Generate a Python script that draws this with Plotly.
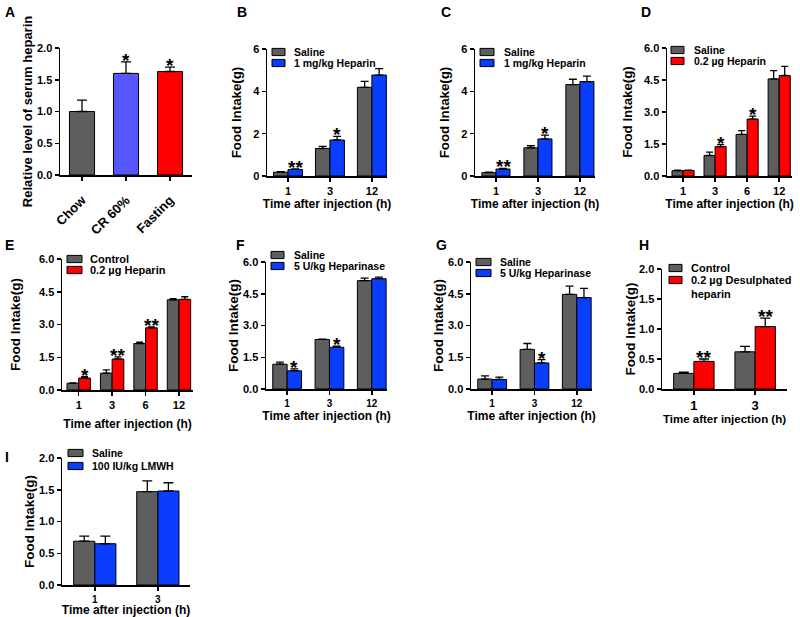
import plotly.graph_objects as go

W, H = 800, 617
FONT = "Liberation Sans, Arial, Helvetica, sans-serif"
GRAY = "#5e5e5e"
BLUE = "#0b3dfd"
RED = "#ff0000"
PERI = "#5656ff"

# ---------------- data ----------------
A_cats = ["Chow", "CR 60%", "Fasting"]
A_vals = [1.00, 1.60, 1.63]
A_err = [0.18, 0.18, 0.07]
A_sig = ["", "*", "*"]

B_times = ["1", "3", "12"]
B_saline = [0.18, 1.30, 4.19]
B_saline_err = [0.02, 0.10, 0.28]
B_hep = [0.31, 1.70, 4.77]
B_hep_err = [0.02, 0.17, 0.30]
B_sig = ["**", "*", ""]

C_times = ["1", "3", "12"]
C_saline = [0.16, 1.33, 4.32]
C_saline_err = [0.02, 0.10, 0.25]
C_hep = [0.33, 1.75, 4.46]
C_hep_err = [0.03, 0.18, 0.26]
C_sig = ["**", "*", ""]

D_times = ["1", "3", "6", "12"]
D_saline = [0.25, 0.96, 1.95, 4.55]
D_saline_err = [0.03, 0.16, 0.18, 0.39]
D_hep = [0.26, 1.38, 2.67, 4.71]
D_hep_err = [0.02, 0.09, 0.14, 0.43]
D_sig = ["", "*", "*", ""]

E_times = ["1", "3", "6", "12"]
E_ctrl = [0.31, 0.77, 2.13, 4.13]
E_ctrl_err = [0.02, 0.15, 0.06, 0.05]
E_hep = [0.55, 1.42, 2.85, 4.15]
E_hep_err = [0.06, 0.10, 0.04, 0.12]
E_sig = ["*", "**", "**", ""]

F_times = ["1", "3", "12"]
F_saline = [1.17, 2.34, 5.12]
F_saline_err = [0.10, 0.02, 0.12]
F_hepase = [0.86, 1.97, 5.21]
F_hepase_err = [0.09, 0.05, 0.08]
F_sig = ["*", "*", ""]

G_times = ["1", "3", "12"]
G_saline = [0.47, 1.87, 4.47]
G_saline_err = [0.15, 0.28, 0.39]
G_hepase = [0.45, 1.23, 4.32]
G_hepase_err = [0.11, 0.16, 0.43]
G_sig = ["", "*", ""]

H_times = ["1", "3"]
H_ctrl = [0.26, 0.62]
H_ctrl_err = [0.02, 0.09]
H_desulf = [0.46, 1.04]
H_desulf_err = [0.04, 0.14]
H_sig = ["**", "**"]

I_times = ["1", "3"]
I_saline = [0.69, 1.47]
I_saline_err = [0.08, 0.17]
I_lmwh = [0.65, 1.48]
I_lmwh_err = [0.12, 0.13]
I_sig = ["", ""]

XT = "Time after injection (h)"
YT = "Food Intake(g)"

# ---------------- panel layout specs (pixels) ----------------
panels = [
    dict(letter="A", lpos=(3, 2), box=(60, 192, 48, 175), xr=[-0.5, 2.5], ymax=2.0, dtick=0.5, yfmt=".1f",
         bw=0.57, cats=A_cats, series=[(A_vals, A_err, [GRAY, PERI, RED], None)], sig=A_sig,
         legend=None, xtitle="", xstand=0, ytitle="Relative level of serum heparin", ystand=1,
         xts=13, yts=11, xtitle_s=12, ytitle_s=13, tickangle=-45, capw=5, tls=7),
    dict(letter="B", lpos=(235, 2), box=(267, 387, 49, 176), xr=[-0.5, 2.36], ymax=6, dtick=2, yfmt="d",
         bw=0.69, cats=B_times,
         series=[(B_saline, B_saline_err, GRAY, "Saline"), (B_hep, B_hep_err, BLUE, "1 mg/kg Heparin")],
         sig=B_sig, legend=(272, 285, 292, [52, 63], 10.5), xtitle=XT, xstand=4, ytitle=YT, ystand=8,
         xts=11, yts=11, xtitle_s=12, ytitle_s=13.3, tickangle=0, capw=4, tls=0),
    dict(letter="C", lpos=(439, 2), box=(475, 595, 49, 176), xr=[-0.5, 2.36], ymax=6, dtick=2, yfmt="d",
         bw=0.67, cats=C_times,
         series=[(C_saline, C_saline_err, GRAY, "Saline"), (C_hep, C_hep_err, BLUE, "1 mg/kg Heparin")],
         sig=C_sig, legend=(480, 494, 502, [52, 63], 10.5), xtitle=XT, xstand=4, ytitle=YT, ystand=8,
         xts=11, yts=11, xtitle_s=12, ytitle_s=13.3, tickangle=0, capw=4, tls=0),
    dict(letter="D", lpos=(639, 2), box=(667, 792, 48, 176), xr=[-0.5, 3.4], ymax=6.0, dtick=1.5, yfmt=".1f",
         bw=0.69, cats=D_times,
         series=[(D_saline, D_saline_err, GRAY, "Saline"), (D_hep, D_hep_err, RED, "0.2 \u00b5g Heparin")],
         sig=D_sig, legend=(671, 684, 692, [50, 61], 10.5), xtitle=XT, xstand=4, ytitle=YT, ystand=8,
         xts=11, yts=11, xtitle_s=12, ytitle_s=13.3, tickangle=0, capw=3.5, tls=0),
    dict(letter="E", lpos=(3, 235), box=(62, 193, 259, 390), xr=[-0.5, 3.42], ymax=6.0, dtick=1.5, yfmt=".1f",
         bw=0.70, cats=E_times,
         series=[(E_ctrl, E_ctrl_err, GRAY, "Control"), (E_hep, E_hep_err, RED, "0.2 \u00b5g Heparin")],
         sig=E_sig, legend=(67, 82, 88, [259, 270], 11), xtitle=XT, xstand=10, ytitle=YT, ystand=15,
         xts=11, yts=11, xtitle_s=12, ytitle_s=13.5, tickangle=0, capw=3.5, tls=0),
    dict(letter="F", lpos=(234, 235), box=(266, 387, 262, 389), xr=[-0.5, 2.36], ymax=6.0, dtick=1.5, yfmt=".1f",
         bw=0.68, cats=F_times,
         series=[(F_saline, F_saline_err, GRAY, "Saline"), (F_hepase, F_hepase_err, BLUE, "5 U/kg Heparinase")],
         sig=F_sig, legend=(271, 284, 292, [255, 266], 10.5), xtitle=XT, xstand=4, ytitle=YT, ystand=1,
         xts=10, yts=11, xtitle_s=12, ytitle_s=13.5, tickangle=0, capw=4, tls=0),
    dict(letter="G", lpos=(434, 235), box=(471, 592, 262, 389), xr=[-0.5, 2.36], ymax=6.0, dtick=1.5, yfmt=".1f",
         bw=0.68, cats=G_times,
         series=[(G_saline, G_saline_err, GRAY, "Saline"), (G_hepase, G_hepase_err, BLUE, "5 U/kg Heparinase")],
         sig=G_sig, legend=(476, 491, 498, [262, 273], 10.5), xtitle=XT, xstand=4, ytitle=YT, ystand=1,
         xts=10, yts=11, xtitle_s=12, ytitle_s=13.5, tickangle=0, capw=4, tls=0),
    dict(letter="H", lpos=(637, 235), box=(662, 787, 269, 389), xr=[-0.52, 1.52], ymax=2.0, dtick=0.5, yfmt=".1f",
         bw=0.66, cats=H_times,
         series=[(H_ctrl, H_ctrl_err, GRAY, "Control"),
                 (H_desulf, H_desulf_err, RED, "0.2 \u00b5g Desulphated<br>heparin")],
         sig=H_sig, legend=(669, 682, 689, [268, 280], 11), xtitle=XT, xstand=2, ytitle=YT, ystand=0,
         xts=13, yts=11, xtitle_s=11.5, ytitle_s=13.5, tickangle=0, capw=5, tls=0),
    dict(letter="I", lpos=(3, 447), box=(62, 190, 458, 585), xr=[-0.52, 1.51], ymax=2.0, dtick=0.5, yfmt=".1f",
         bw=0.67, cats=I_times,
         series=[(I_saline, I_saline_err, GRAY, "Saline"), (I_lmwh, I_lmwh_err, BLUE, "100 IU/kg LMWH")],
         sig=I_sig, legend=(68, 83, 90, [453, 466], 10.5), xtitle=XT, xstand=3, ytitle=YT, ystand=1,
         xts=10, yts=11, xtitle_s=12, ytitle_s=13.5, tickangle=0, capw=5, tls=0),
]


def f(size):
    return dict(family=FONT, size=size, color="black", weight="bold")


fig = go.Figure()
axes = {}
annotations = []
shapes = []
STAR_SHIFT = -11

for k, p in enumerate(panels, start=1):
    suf = "" if k == 1 else str(k)
    xa, ya = "x" + suf, "y" + suf
    L, R, T, B = p["box"]
    n = len(p["cats"])
    idx = list(range(n))
    ns = len(p["series"])
    w = p["bw"] / ns
    for si, (vals, errs, color, label) in enumerate(p["series"]):
        off = -p["bw"] / 2 + si * w
        fig.add_trace(go.Bar(
            x=idx, y=vals, width=w, offset=off, name=label or "",
            marker=dict(color=color, line=dict(color="black", width=1)),
            error_y=dict(type="data", symmetric=False, array=errs, arrayminus=[0] * n,
                         color="black", thickness=1.3, width=p["capw"]),
            xaxis=xa, yaxis=ya, showlegend=False, hoverinfo="skip"))
    vals, errs = p["series"][-1][0], p["series"][-1][1]
    cx = (p["bw"] / 2 - w / 2) if ns > 1 else 0
    for i, s in enumerate(p["sig"]):
        if s:
            annotations.append(dict(x=i + cx, y=vals[i] + errs[i], xref=xa, yref=ya, text=s,
                                    showarrow=False, yanchor="bottom", yshift=STAR_SHIFT, font=f(19)))
    axes["xaxis" + suf] = dict(
        domain=[L / W, R / W], range=p["xr"], anchor=ya, tickmode="array", tickvals=idx,
        ticktext=p["cats"], tickangle=p["tickangle"], showline=True, linecolor="black", linewidth=1.5,
        ticks="outside", ticklen=4, tickwidth=1.5, tickcolor="black", showgrid=False, zeroline=False,
        tickfont=f(p["xts"]), automargin=False, fixedrange=True, ticklabelstandoff=p["tls"],
        title=dict(text=p["xtitle"], standoff=p["xstand"], font=f(p["xtitle_s"])))
    axes["yaxis" + suf] = dict(
        domain=[1 - B / H, 1 - T / H], range=[0, p["ymax"]], anchor=xa, tick0=0, dtick=p["dtick"],
        tickformat=p["yfmt"], showline=True, linecolor="black", linewidth=1.5, ticks="outside",
        ticklen=4, tickwidth=1.5, tickcolor="black", showgrid=False, zeroline=False,
        tickfont=f(p["yts"]), automargin=False, fixedrange=True,
        title=dict(text=p["ytitle"], standoff=p["ystand"], font=f(p["ytitle_s"])))
    # panel letter
    lx, ly = p["lpos"]
    annotations.append(dict(xref="paper", yref="paper", x=lx / W, y=1 - ly / H, text=p["letter"],
                            showarrow=False, xanchor="left", yanchor="top", font=f(14)))
    # legend drawn as swatches + labels
    if p["legend"]:
        sl, sr, tx, rows, fs = p["legend"]
        for (vals_, errs_, color, label), ry in zip(p["series"], rows):
            shapes.append(dict(type="rect", xref="paper", yref="paper", x0=sl / W, x1=sr / W,
                               y0=1 - (ry + 3.6) / H, y1=1 - (ry - 3.6) / H, fillcolor=color,
                               line=dict(color="black", width=1), layer="above"))
            if "<br>" in label:
                annotations.append(dict(xref="paper", yref="paper", x=tx / W, y=1 - (ry - 0.72 * fs) / H,
                                        text=label, showarrow=False, xanchor="left", yanchor="top",
                                        align="left", font=f(fs)))
            else:
                annotations.append(dict(xref="paper", yref="paper", x=tx / W, y=1 - ry / H, text=label,
                                        showarrow=False, xanchor="left", yanchor="middle", font=f(fs)))

fig.update_layout(
    width=W, height=H, margin=dict(l=0, r=0, t=0, b=0), paper_bgcolor="white", plot_bgcolor="white",
    barmode="overlay", showlegend=False, annotations=annotations, shapes=shapes, font=f(11),
    hovermode=False, **axes)

fig.write_html("out.html", config={"displayModeBar": False, "staticPlot": True},
               post_script="document.body.style.margin='0';document.body.style.overflow='hidden';")
